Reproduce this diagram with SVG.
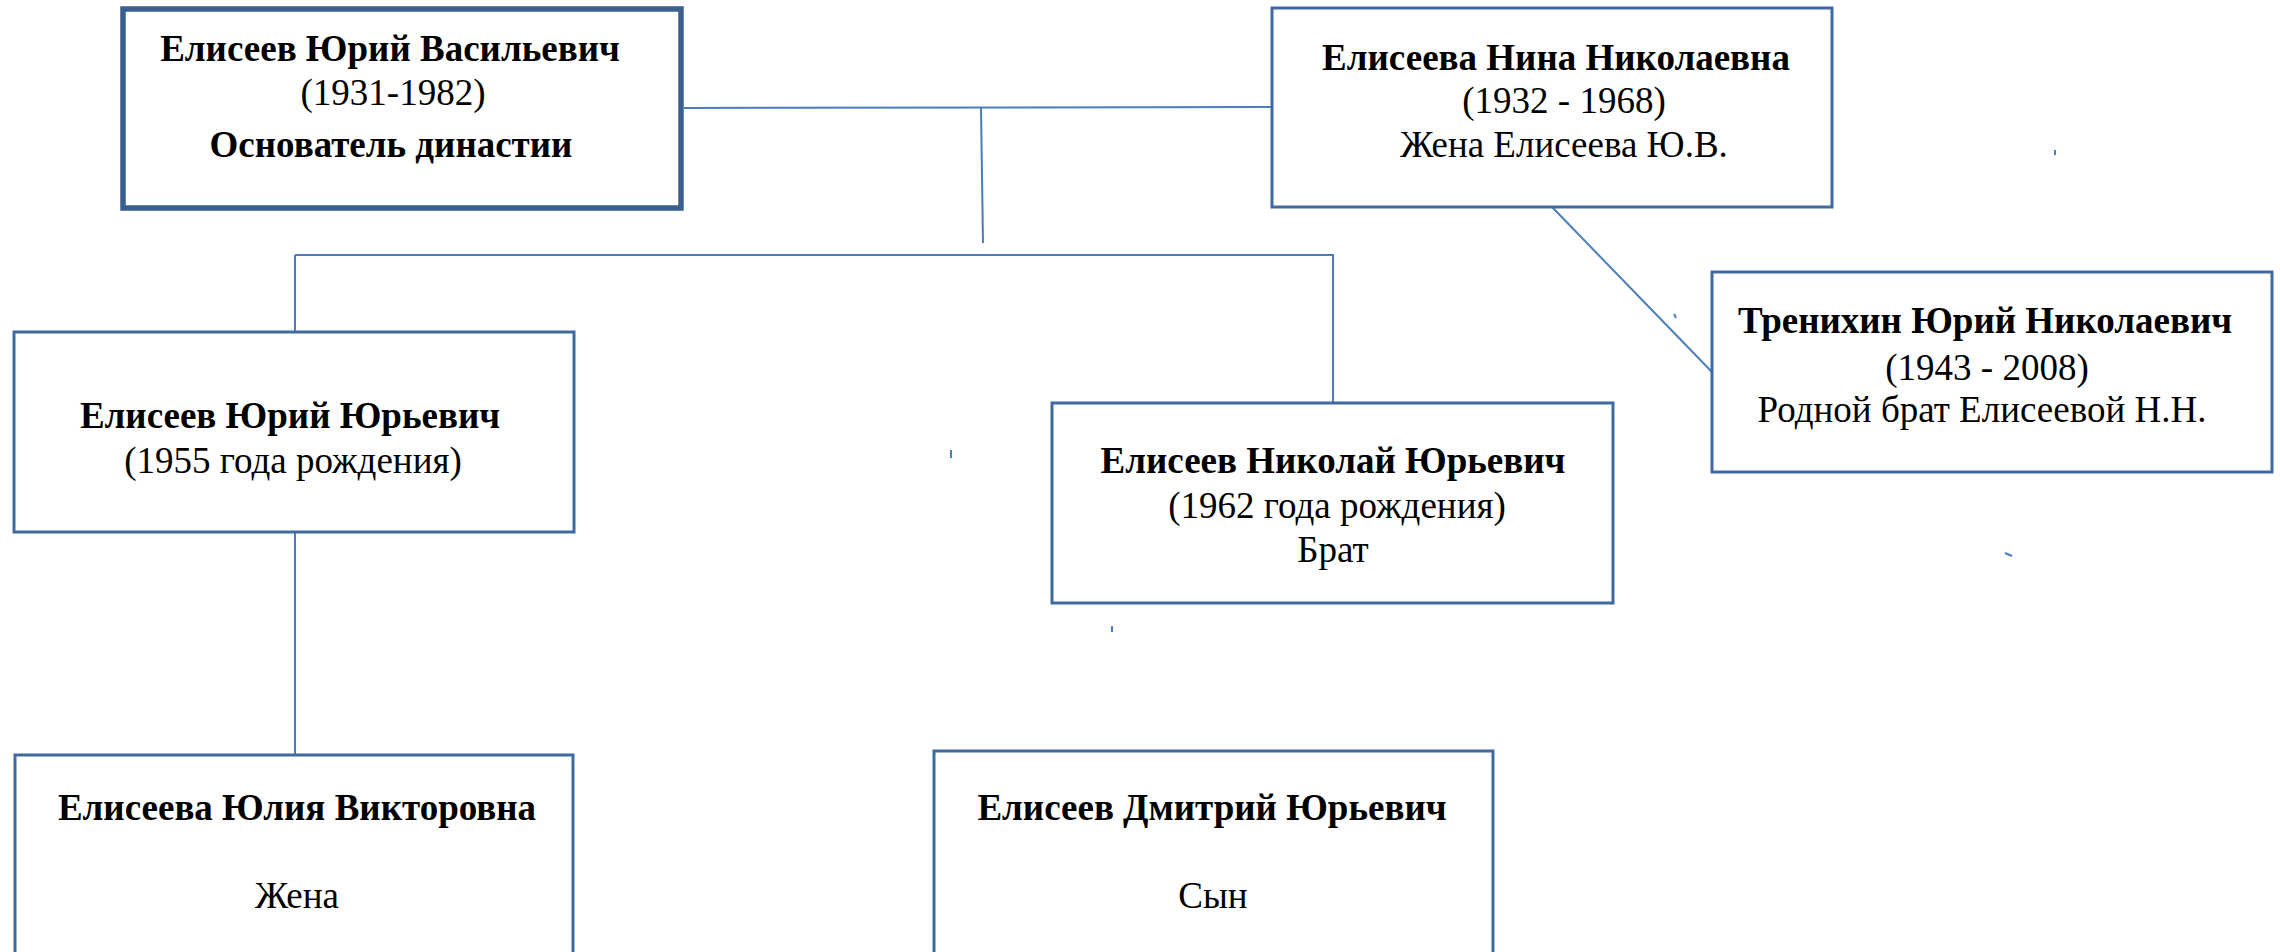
<svg xmlns="http://www.w3.org/2000/svg" width="2280" height="952" viewBox="0 0 2280 952">
<style>
.box{fill:#fff;stroke:#3f6aa0;stroke-width:3}
.main{fill:#fff;stroke:#3a5f8e;stroke-width:5.5}
.con line{stroke:#4a7ebb;stroke-width:2;fill:none}
text{font-family:"Liberation Serif","Times New Roman",serif;font-size:37px;fill:#000;text-anchor:middle}
.b{font-weight:bold}
</style>
<rect width="2280" height="952" fill="#fff"/>
<g id="connectors" class="con">
<line x1="684" y1="108" x2="1271" y2="107"/>
<line x1="981" y1="108" x2="983" y2="243"/>
<line x1="295" y1="255" x2="1334" y2="255"/>
<line x1="295" y1="255" x2="295" y2="332"/>
<line x1="1333" y1="255" x2="1333" y2="403"/>
<line x1="295" y1="532" x2="295" y2="755"/>
<line x1="1552" y1="207" x2="1712" y2="372"/>
<line x1="2055" y1="150" x2="2055" y2="155"/>
<line x1="1674" y1="314" x2="1676" y2="318"/>
<line x1="2005" y1="553" x2="2012" y2="556"/>
<line x1="951" y1="450" x2="951" y2="458"/>
<line x1="1112" y1="626" x2="1112" y2="632"/>
</g>
<g id="n1">
<rect class="main" x="123" y="9" width="558" height="199"/>
<text class="b" x="390" y="61">Елисеев Юрий Васильевич</text>
<text x="393" y="105">(1931-1982)</text>
<text class="b" x="391" y="157">Основатель династии</text>
</g>
<g id="n2">
<rect class="box" x="1272" y="8" width="560" height="199"/>
<text class="b" x="1556" y="70">Елисеева Нина Николаевна</text>
<text x="1564" y="113">(1932 - 1968)</text>
<text x="1564" y="157">Жена Елисеева Ю.В.</text>
</g>
<g id="n3">
<rect class="box" x="1712" y="272" width="560" height="200"/>
<text class="b" x="1985" y="333">Тренихин Юрий Николаевич</text>
<text x="1987" y="380">(1943 - 2008)</text>
<text x="1982" y="422">Родной брат Елисеевой Н.Н.</text>
</g>
<g id="n4">
<rect class="box" x="14" y="332" width="560" height="200"/>
<text class="b" x="290" y="428">Елисеев Юрий Юрьевич</text>
<text x="293" y="473">(1955 года рождения)</text>
</g>
<g id="n5">
<rect class="box" x="1052" y="403" width="561" height="200"/>
<text class="b" x="1333" y="473">Елисеев Николай Юрьевич</text>
<text x="1337" y="518">(1962 года рождения)</text>
<text x="1333" y="562">Брат</text>
</g>
<g id="n6">
<rect class="box" x="15" y="755" width="558" height="220"/>
<text class="b" x="297" y="820">Елисеева Юлия Викторовна</text>
<text x="297" y="908">Жена</text>
</g>
<g id="n7">
<rect class="box" x="934" y="751" width="559" height="224"/>
<text class="b" x="1212" y="820">Елисеев Дмитрий Юрьевич</text>
<text x="1213" y="908">Сын</text>
</g>
</svg>
